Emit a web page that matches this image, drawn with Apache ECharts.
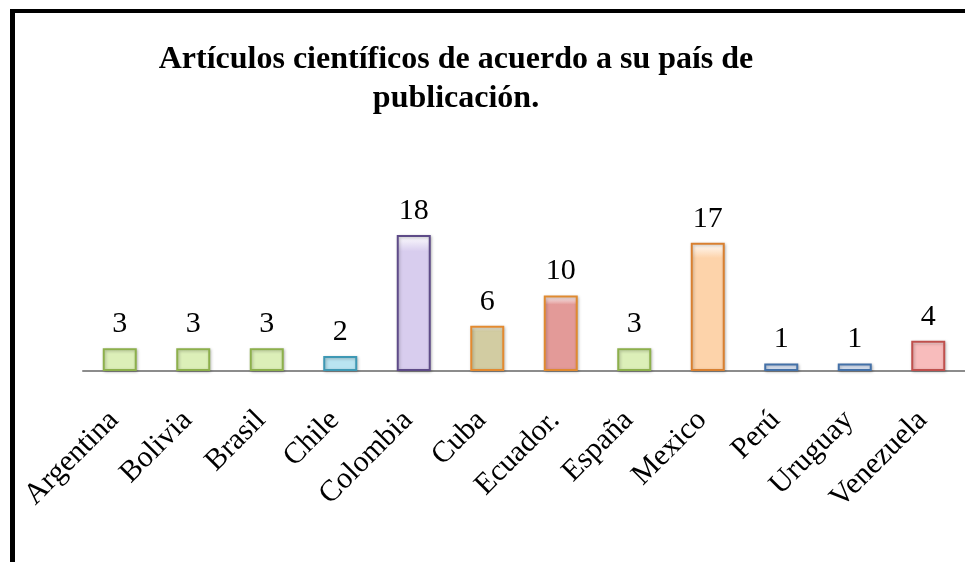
<!DOCTYPE html>
<html>
<head>
<meta charset="utf-8">
<title>Artículos científicos</title>
<script src="https://cdn.jsdelivr.net/npm/echarts@6/dist/echarts.min.js"></script>
<style>
  html, body { margin: 0; padding: 0; background: #fff; }
  #chart { width: 965px; height: 562px; }
</style>
</head>
<body>
<div id="chart"></div>
<script>
// datos
var paises = ["Argentina", "Bolivia", "Brasil", "Chile", "Colombia", "Cuba", "Ecuador.", "España", "Mexico", "Perú", "Uruguay", "Venezuela"];
var articulos = [3, 3, 3, 2, 18, 6, 10, 3, 17, 1, 1, 4];

// colores de relleno y borde por barra
var rellenos = ["#dcefb8", "#dcefb8", "#dcefb8", "#b9e4f1", "#d8cdee", "#d2cca2", "#e39a98", "#dcefb8", "#fdd3aa", "#dbe5f5", "#dbe5f5", "#f8bcbc"];
var bordes = ["#8db04c", "#8db04c", "#8db04c", "#3e98b4", "#5e4b88", "#e38a30", "#e08a30", "#8db04c", "#d98030", "#4471a8", "#4471a8", "#c0504d"];

var myChart = echarts.init(document.getElementById("chart"));

var datos = articulos.map(function (v, i) {
  return {
    value: v,
    itemStyle: {
      color: new echarts.graphic.LinearGradient(0, 0, 0, 1, [
        { offset: 0, color: "#ffffff" },
        { offset: 0.12, color: rellenos[i] },
        { offset: 1, color: rellenos[i] }
      ]),
      borderColor: bordes[i],
      borderWidth: 2,
      shadowColor: "rgba(0,0,0,0.25)",
      shadowBlur: 3,
      shadowOffsetX: 1,
      shadowOffsetY: 1
    }
  };
});

myChart.setOption({
  animation: false,
  title: {
    text: "Artículos científicos de acuerdo a su país de\npublicación.",
    left: 451,
    top: 35,
    textAlign: "center",
    textStyle: {
      fontFamily: "Liberation Serif",
      fontWeight: "bold",
      fontSize: 32,
      lineHeight: 39,
      color: "#000"
    }
  },
  graphic: [
    // marco negro
    { type: "rect", shape: { x: 10, y: 9, width: 5, height: 560 }, style: { fill: "#000" } },
    { type: "rect", shape: { x: 10, y: 9, width: 960, height: 4 }, style: { fill: "#000" } }
  ],
  grid: {
    left: 83,
    right: -6,
    top: 220,
    bottom: 191,
    containLabel: false
  },
  xAxis: {
    type: "category",
    data: paises,
    axisTick: { show: false },
    axisLine: {
      lineStyle: { color: "#8c8c8c", width: 2 }
    },
    axisLabel: {
      interval: 0,
      rotate: 45,
      margin: 39,
      padding: [0, 8, 0, 0],
      color: "#000",
      fontFamily: "Liberation Serif",
      fontSize: 30
    }
  },
  yAxis: {
    type: "value",
    min: 0,
    max: 20,
    show: false,
    splitLine: { show: false }
  },
  series: [
    {
      type: "bar",
      data: datos,
      barWidth: 34,
      label: {
        show: true,
        position: "top",
        distance: 9,
        color: "#000",
        fontFamily: "Liberation Serif",
        fontSize: 30
      }
    }
  ]
});
</script>
</body>
</html>
